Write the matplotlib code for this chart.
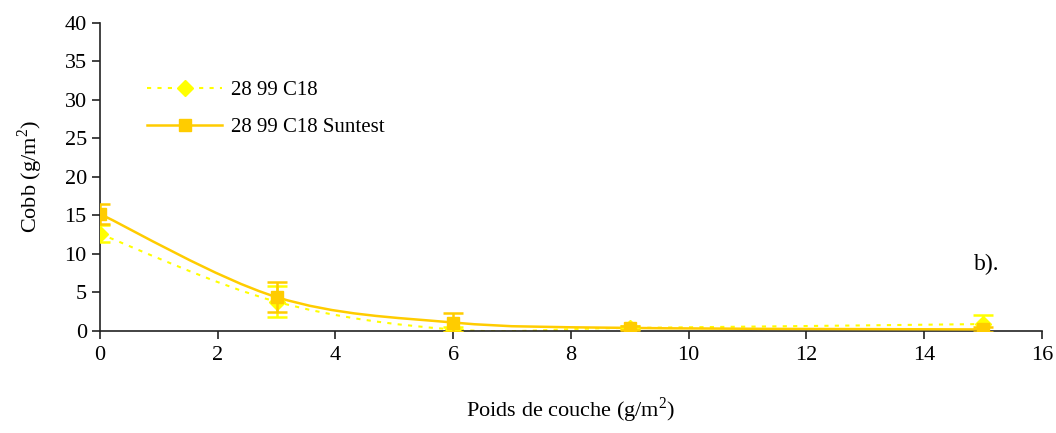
import matplotlib
matplotlib.use('Agg')
import matplotlib.pyplot as plt
from matplotlib.path import Path
from matplotlib.patches import PathPatch
from matplotlib.lines import Line2D
import numpy as np

# data
poids = [0, 3, 6, 9, 15]
cobb_c18 = [12.6, 3.8, 0.2, 0.4, 0.9]
err_c18 = [1.1, 2.0, 0.3, 0.2, 1.2]
cobb_suntest = [15.2, 4.4, 1.1, 0.4, 0.2]
err_suntest = [1.3, 1.9, 1.2, 0.3, 0.3]
labels = ['28 99 C18', '28 99 C18 Suntest']

plt.rcParams['font.family'] = ['Liberation Serif', 'DejaVu Serif']
plt.rcParams['mathtext.fontset'] = 'custom'
plt.rcParams['mathtext.rm'] = 'Liberation Serif'


def smooth_path(ax, x, y, **kw):
    # Excel-like smoothed line: cubic bezier segments through the points
    pts = np.column_stack([x, y]).astype(float)
    n = len(pts)
    verts = [pts[0]]
    codes = [Path.MOVETO]
    for i in range(n - 1):
        p0 = pts[i - 1] if i > 0 else pts[i]
        p1 = pts[i]
        p2 = pts[i + 1]
        p3 = pts[i + 2] if i + 2 < n else pts[i + 1]
        c1 = p1 + (p2 - p0) / 6.0
        c2 = p2 - (p3 - p1) / 6.0
        verts += [c1, c2, p2]
        codes += [Path.CURVE4] * 3
    patch = PathPatch(Path(verts, codes), fill=False, **kw)
    ax.add_patch(patch)
    return patch


fig = plt.figure(figsize=(10.56, 4.33), dpi=100)
ax = fig.add_axes([0.0947, 0.2356, 0.892, 0.7113])

yellow = '#FFFF00'
gold = '#FFCC00'

smooth_path(ax, poids, cobb_c18, edgecolor=yellow, lw=1.5, linestyle=(0, (2, 3)), zorder=2)
smooth_path(ax, poids, cobb_suntest, edgecolor=gold, lw=1.8, zorder=3)

ax.errorbar(poids, cobb_c18, yerr=err_c18, fmt='D', color=yellow, ms=8,
            elinewidth=1.8, capsize=7, capthick=1.8, zorder=4)
ax.errorbar(poids, cobb_suntest, yerr=err_suntest, fmt='s', color=gold, ms=9,
            elinewidth=1.8, capsize=7, capthick=1.8, zorder=5)

ax.set_xlim(0, 16)
ax.set_ylim(0, 40)
ax.set_xticks(range(0, 17, 2))
ax.set_yticks(range(0, 41, 5))
for s in ['top', 'right']:
    ax.spines[s].set_visible(False)
for s in ['left', 'bottom']:
    ax.spines[s].set_color('#222222')
    ax.spines[s].set_linewidth(1.2)
ax.tick_params(direction='out', length=6, width=1.2, labelsize=16, color='#222222')
ax.tick_params(axis='x', pad=5)

ax.set_xlabel('Poids de couche (g/m$^2$)', fontsize=16, labelpad=22)
ax.set_ylabel('Cobb (g/m$^2$)', fontsize=16, labelpad=14)

ax.text(14.85, 8.6, 'b).', fontsize=17, ha='left', va='center')

handles = [
    Line2D([], [], color=yellow, lw=1.5, linestyle=(0, (2, 3)), marker='D', ms=8),
    Line2D([], [], color=gold, lw=1.8, marker='s', ms=9),
]
ax.legend(handles, labels, loc='upper left', bbox_to_anchor=(0.03, 0.875),
          frameon=False, fontsize=15, handlelength=3.6, labelspacing=0.85,
          handletextpad=0.45)

fig.savefig('out.png', dpi=100)
